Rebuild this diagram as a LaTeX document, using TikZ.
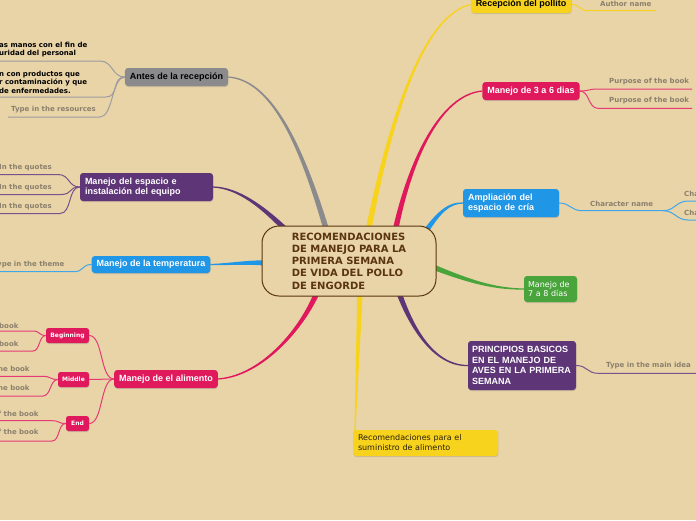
\documentclass[tikz,border=0pt]{standalone}
\usepackage{fontspec}
\setmainfont{DejaVu Sans}
\newfontfamily\arialb{Liberation Sans}
\usetikzlibrary{calc,backgrounds,shadows}
\definecolor{bg}{HTML}{E9D4A8}
\definecolor{cbrown}{HTML}{5A3510}
\definecolor{cgray}{HTML}{8B8B8D}
\definecolor{cpurple}{HTML}{5E3577}
\definecolor{cblue}{HTML}{1F96E6}
\definecolor{cpink}{HTML}{E0195D}
\definecolor{cyellow}{HTML}{F8D31E}
\definecolor{cgreen}{HTML}{4AA43C}
\definecolor{leaftxt}{HTML}{8B806C}
\definecolor{darktxt}{HTML}{2A2008}
\newcommand\taper[5]{%
 \fill[#1] ($(#2)!2.8pt!90:(#3)$) .. controls ($(#3)!1.8pt!90:(#4)$) and ($(#4)!1pt!90:(#5)$) .. ($(#5)!0.6pt!-90:(#4)$) -- ($(#5)!0.6pt!90:(#4)$) .. controls ($(#4)!1pt!-90:(#5)$) and ($(#3)!1.8pt!-90:(#4)$) .. ($(#2)!2.8pt!-90:(#3)$) -- cycle;}
\tikzset{
 shad/.style={drop shadow={shadow xshift=0.4pt, shadow yshift=-1pt, opacity=0.3}},
 box/.style={shad, rounded corners=3pt, inner xsep=5pt, inner ysep=2pt, align=left,
   font=\arialb\fontsize{9}{10.6}\selectfont\bfseries, text=white},
 smallbox/.style={shad, rounded corners=2.5pt, inner sep=0pt, fill=cpink, text=white,
   font=\fontsize{6}{7}\selectfont\bfseries, minimum height=15pt},
 leaf/.style={anchor=west, inner sep=0pt, align=left, font=\fontsize{7}{8.4}\selectfont\bfseries, text=leaftxt},
 twig/.style={line width=1pt},
}
\begin{document}
\begin{tikzpicture}[x=1pt,y=-1pt]
\useasboundingbox (0,0) rectangle (696,520);
% central
\node[draw=cbrown, line width=1pt, fill=bg, rounded corners=17pt, minimum width=174pt, minimum height=70pt,
  align=left, text=cbrown, font=\fontsize{10}{12.2}\selectfont\bfseries] (ctr) at (349,261)
  {RECOMENDACIONES\\DE MANEJO PARA LA\\PRIMERA SEMANA\\DE VIDA DEL POLLO\\DE ENGORDE};
% branch nodes
\node[box, fill=cgray, text=black, minimum width=103pt, minimum height=18pt, align=center] (antes) at (176.5,77) {Antes de la recepción};
\node[box, fill=cpurple, text width=123pt, minimum height=28pt] (esp) at (146.5,187) {Manejo del espacio e\\instalación del equipo};
\node[box, fill=cblue, minimum width=118pt, minimum height=17pt, align=center] (temp) at (151,264.5) {Manejo de la temperatura};
\node[box, fill=cpink, minimum width=102pt, minimum height=18pt, align=center] (alim) at (166,379) {Manejo de el alimento};
\node[smallbox, minimum width=43pt] (beg) at (67.5,335.5) {Beginning};
\node[smallbox, minimum width=31pt] (mid) at (73.5,379.5) {Middle};
\node[smallbox, minimum width=23pt] (endn) at (77.5,423.5) {End};
\node[box, fill=cyellow, text=black, minimum width=100pt, minimum height=17pt, align=center] (recep) at (521,4.5) {Recepción del pollito};
\node[box, fill=cpink, minimum width=96pt, minimum height=18pt, align=center] (m36) at (531,91) {Manejo de 3 a 6 dias};
\node[box, fill=cblue, text width=86pt, minimum height=28pt] (ampl) at (511,203) {Ampliación del\\espacio de cría};
\node[box, fill=cgreen, inner xsep=4pt, text width=45pt, minimum height=26pt, font=\fontsize{8}{9.5}\selectfont] (m78) at (550.5,289) {Manejo de\\7 a 8 días};
\node[box, fill=cpurple, inner xsep=4pt, text width=100pt, minimum height=49pt] (princ) at (522,365.5) {PRINCIPIOS BASICOS\\EN EL MANEJO DE\\AVES EN LA PRIMERA\\SEMANA};
\node[box, fill=cyellow, text=darktxt, text width=135pt, minimum height=26pt, font=\fontsize{8}{10}\selectfont] (recom) at (425.5,443) {Recomendaciones para el\\suministro de alimento};
% leaf texts
\node[leaf, text=black] (tl1) at (-1,49.5) {as manos con el fin de\\uridad del personal};
\node[leaf, text=black] (tl2) at (-1,82.2) {n con productos que\\r contaminación y que\\de enfermedades.};
\node[leaf] (tl3) at (11,109.3) {Type in the resources};
\node[leaf] (q1) at (-1,167.7) {In the quotes};
\node[leaf] (q2) at (-1,187.7) {In the quotes};
\node[leaf] (q3) at (-1,206.7) {In the quotes};
\node[leaf] (th) at (-3,264.3) {ype in the theme};
\node[leaf] (b1) at (-1,325.7) {book};
\node[leaf] (b2) at (-1,344.3) {book};
\node[leaf] (md1) at (-2,369) {he book};
\node[leaf] (md2) at (-2,388.3) {he book};
\node[leaf] (e1) at (-2,413.7) {f the book};
\node[leaf] (e2) at (-2,432.3) {f the book};
\node[leaf] (auth) at (600,3.7) {Author name};
\node[leaf] (pu1) at (609,81.5) {Purpose of the book};
\node[leaf] (pu2) at (609,100.3) {Purpose of the book};
\node[leaf] (chn) at (590,203.7) {Character name};
\node[leaf] (ch1) at (684,193.7) {Cha};
\node[leaf] (ch2) at (684,213.3) {Cha};
\node[leaf] (tmi) at (606,365.7) {Type in the main idea};
% coordinates
\coordinate (sg) at (327,232);
\coordinate (sp1) at (288,232);
\coordinate (sb1) at (268,263);
\coordinate (sk1) at (318,290);
\coordinate (sy2) at (360,290);
\coordinate (sp2) at (398,290);
\coordinate (sgr) at (428,265);
\coordinate (sb2) at (424,234);
\coordinate (sk2) at (395,232);
\coordinate (sy1) at (368,232);
\coordinate (recomtop) at (355,431);
\begin{scope}[on background layer]
\fill[bg] (0,0) rectangle (696,520);
% main connectors
\taper{cgray}{sg}{300,140}{270,80}{antes.east}
\taper{cpurple}{sp1}{262,206}{238,188}{esp.east}
\taper{cblue}{sb1}{245,262}{228,264.5}{temp.east}
\taper{cpink}{sk1}{303,328}{262,376}{alim.east}
\taper{cyellow}{sy2}{358,350}{356,400}{recomtop}
\taper{cpurple}{sp2}{412,330}{435,366}{princ.west}
\taper{cgreen}{sgr}{470,282}{495,289}{m78.west}
\taper{cblue}{sb2}{440,210}{450,203}{ampl.west}
\taper{cpink}{sk2}{410,160}{440,95}{m36.west}
\taper{cyellow}{sy1}{392,110}{425,15}{recep.west}
% twigs
\draw[twig, cgray!85] (antes.west) .. controls +(-13,0) and +(13,0) .. (100,61) -- (-5,61);
\draw[twig, cgray!85] (antes.west) .. controls +(-13,0) and +(13,0) .. (106,97) -- (-5,97);
\draw[twig, cgray!85] (antes.west) .. controls +(-13,0) and +(13,0) .. (100,117) -- (8,117);
\draw[twig, cpurple!85] (esp.west) .. controls +(-12,0) and +(12,0) .. (58,174.5) -- (-5,174.5);
\draw[twig, cpurple!85] (esp.west) .. controls +(-12,0) and +(12,0) .. (61,194.5) -- (-5,194.5);
\draw[twig, cpurple!85] (esp.west) .. controls +(-12,0) and +(12,0) .. (60,213.5) -- (-5,213.5);
\draw[twig, cblue!85] (temp.west) .. controls +(-10,0) and +(10,0) .. (74,271.7) -- (-5,271.7);
\draw[twig, cpink!85] (alim.west) .. controls +(-14,0) and +(14,0) .. (beg.east);
\draw[twig, cpink!85] (alim.west) -- (mid.east);
\draw[twig, cpink!85] (alim.west) .. controls +(-14,0) and +(14,0) .. (endn.east);
\draw[twig, cpink!85] (beg.west) .. controls +(-7,0) and +(7,0) .. (33,331) -- (-5,331);
\draw[twig, cpink!85] (beg.west) .. controls +(-7,0) and +(7,0) .. (33,351) -- (-5,351);
\draw[twig, cpink!85] (mid.west) .. controls +(-8,0) and +(8,0) .. (43,376.3) -- (-5,376.3);
\draw[twig, cpink!85] (mid.west) .. controls +(-8,0) and +(8,0) .. (43,396) -- (-5,396);
\draw[twig, cpink!85] (endn.west) .. controls +(-8,0) and +(8,0) .. (52,420.7) -- (-5,420.7);
\draw[twig, cpink!85] (endn.west) .. controls +(-8,0) and +(8,0) .. (52,441) -- (-5,441);
\draw[twig, cyellow] (recep.east) .. controls +(9,0) and +(-9,0) .. (588,10.7) -- (656,10.7);
\draw[twig, cpink!85] (m36.east) .. controls +(10,0) and +(-10,0) .. (598,89) -- (692,89);
\draw[twig, cpink!85] (m36.east) .. controls +(10,0) and +(-10,0) .. (598,108.3) -- (692,108.3);
\coordinate (chsplit) at (663,210.7);
\draw[twig, cblue!85] (ampl.east) .. controls +(11,0) and +(-11,0) .. (582,210.7) -- (chsplit);
\draw[twig, cblue!85] (chsplit) .. controls +(12,0) and +(-12,0) .. (688,201) -- (700,201);
\draw[twig, cblue!85] (chsplit) .. controls +(12,0) and +(-12,0) .. (688,220) -- (700,220);
\draw[twig, cpurple!85] (princ.east) .. controls +(11,0) and +(-11,0) .. (598,373.3) -- (700,373.3);
\end{scope}
\end{tikzpicture}
\end{document}
